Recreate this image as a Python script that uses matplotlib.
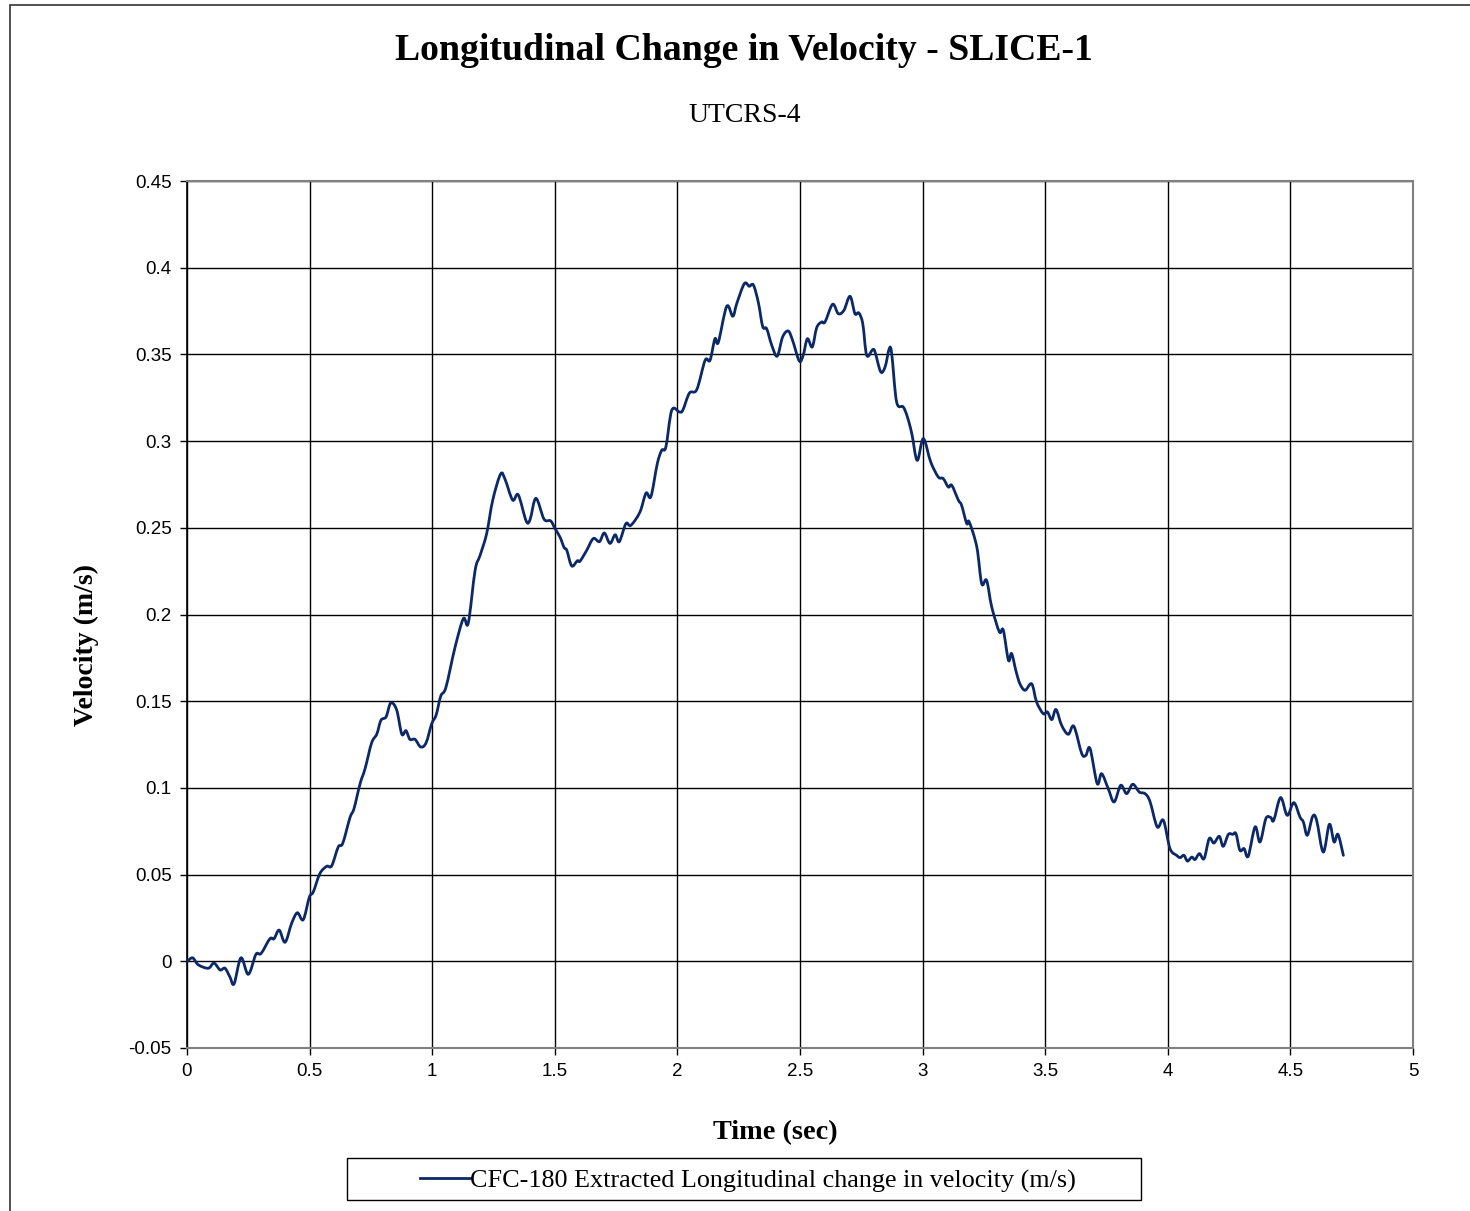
import numpy as np
import matplotlib.pyplot as plt
from matplotlib.patches import Rectangle, PathPatch
from matplotlib.path import Path
from matplotlib.lines import Line2D

# time (sec) and longitudinal change in velocity (m/s), CFC-180 extracted
time_s = [
    0.001, 0.023, 0.046, 0.087, 0.110, 0.135, 0.155, 0.175, 0.192, 0.220,
    0.250, 0.281, 0.302, 0.338, 0.355, 0.376, 0.400, 0.427, 0.450, 0.474,
    0.499, 0.515, 0.542, 0.570, 0.590, 0.617, 0.635, 0.665, 0.681, 0.706,
    0.726, 0.753, 0.774, 0.791, 0.812, 0.831, 0.855, 0.876, 0.893, 0.909,
    0.930, 0.953, 0.975, 0.998, 1.016, 1.035, 1.056, 1.093, 1.127, 1.147,
    1.175, 1.195, 1.222, 1.247, 1.279, 1.297, 1.328, 1.351, 1.383, 1.399,
    1.423, 1.456, 1.483, 1.501, 1.521, 1.538, 1.549, 1.569, 1.592, 1.603,
    1.630, 1.657, 1.682, 1.702, 1.725, 1.746, 1.763, 1.790, 1.810, 1.847,
    1.872, 1.892, 1.918, 1.936, 1.953, 1.977, 2.008, 2.022, 2.049, 2.079,
    2.113, 2.133, 2.153, 2.167, 2.201, 2.226, 2.242, 2.273, 2.293, 2.310,
    2.330, 2.348, 2.364, 2.385, 2.407, 2.429, 2.452, 2.470, 2.497, 2.513,
    2.530, 2.550, 2.568, 2.588, 2.602, 2.633, 2.656, 2.679, 2.704, 2.724,
    2.740, 2.756, 2.772, 2.796, 2.806, 2.829, 2.847, 2.864, 2.874, 2.894,
    2.921, 2.938, 2.956, 2.978, 3.003, 3.033, 3.064, 3.084, 3.105, 3.119,
    3.146, 3.159, 3.180, 3.190, 3.221, 3.241, 3.261, 3.282, 3.313, 3.329,
    3.350, 3.363, 3.381, 3.397, 3.418, 3.445, 3.465, 3.492, 3.509, 3.527,
    3.544, 3.567, 3.594, 3.617, 3.649, 3.666, 3.683, 3.712, 3.730, 3.757,
    3.781, 3.808, 3.832, 3.857, 3.884, 3.907, 3.927, 3.957, 3.982, 4.009,
    4.036, 4.050, 4.066, 4.080, 4.098, 4.111, 4.129, 4.148, 4.169, 4.188,
    4.210, 4.226, 4.247, 4.265, 4.278, 4.294, 4.311, 4.328, 4.356, 4.376,
    4.400, 4.420, 4.432, 4.460, 4.487, 4.514, 4.539, 4.553, 4.569, 4.591,
    4.607, 4.634, 4.659, 4.678, 4.694, 4.716,
]
velocity = [
    0.0000, 0.0020, -0.0020, -0.0040, -0.0010, -0.0050, -0.0040, -0.0090, -0.0130, 0.0020,
    -0.0075, 0.0040, 0.0045, 0.0130, 0.0130, 0.0180, 0.0110, 0.0220, 0.0280, 0.0240,
    0.0370, 0.0400, 0.0506, 0.0548, 0.0550, 0.0660, 0.0680, 0.0830, 0.0880, 0.1025,
    0.1110, 0.1260, 0.1310, 0.1390, 0.1410, 0.1490, 0.1450, 0.1310, 0.1330, 0.1280,
    0.1280, 0.1236, 0.1260, 0.1370, 0.1420, 0.1530, 0.1580, 0.1810, 0.1976, 0.1950,
    0.2255, 0.2340, 0.2466, 0.2660, 0.2810, 0.2780, 0.2660, 0.2690, 0.2540, 0.2547,
    0.2670, 0.2550, 0.2540, 0.2495, 0.2447, 0.2386, 0.2370, 0.2280, 0.2310, 0.2308,
    0.2370, 0.2438, 0.2420, 0.2470, 0.2410, 0.2460, 0.2420, 0.2524, 0.2514, 0.2590,
    0.2700, 0.2680, 0.2870, 0.2947, 0.2966, 0.3178, 0.3168, 0.3178, 0.3277, 0.3297,
    0.3466, 0.3466, 0.3590, 0.3570, 0.3777, 0.3720, 0.3793, 0.3908, 0.3893, 0.3900,
    0.3800, 0.3660, 0.3648, 0.3552, 0.3490, 0.3600, 0.3635, 0.3580, 0.3462, 0.3495,
    0.3590, 0.3543, 0.3654, 0.3687, 0.3687, 0.3789, 0.3735, 0.3754, 0.3835, 0.3735,
    0.3739, 0.3677, 0.3495, 0.3527, 0.3514, 0.3400, 0.3428, 0.3533, 0.3504, 0.3226,
    0.3197, 0.3139, 0.3043, 0.2889, 0.3014, 0.2880, 0.2793, 0.2784, 0.2735, 0.2745,
    0.2659, 0.2630, 0.2524, 0.2534, 0.2390, 0.2178, 0.2197, 0.2043, 0.1900, 0.1910,
    0.1736, 0.1775, 0.1673, 0.1600, 0.1563, 0.1600, 0.1495, 0.1428, 0.1438, 0.1394,
    0.1452, 0.1361, 0.1309, 0.1355, 0.1198, 0.1188, 0.1227, 0.1025, 0.1082, 0.0996,
    0.0919, 0.1015, 0.0967, 0.1021, 0.0976, 0.0967, 0.0923, 0.0775, 0.0813, 0.0650,
    0.0611, 0.0598, 0.0611, 0.0578, 0.0601, 0.0587, 0.0621, 0.0592, 0.0708, 0.0682,
    0.0721, 0.0663, 0.0732, 0.0732, 0.0736, 0.0640, 0.0650, 0.0606, 0.0775, 0.0688,
    0.0823, 0.0829, 0.0813, 0.0944, 0.0842, 0.0915, 0.0832, 0.0803, 0.0727, 0.0836,
    0.0813, 0.0630, 0.0790, 0.0688, 0.0732, 0.0611,
]

x_ticks = [0, 0.5, 1, 1.5, 2, 2.5, 3, 3.5, 4, 4.5, 5]
y_ticks = [-0.05, 0, 0.05, 0.1, 0.15, 0.2, 0.25, 0.3, 0.35, 0.4, 0.45]

line_color = "#0b2867"
serif = "Liberation Serif"
sans = "Liberation Sans"
series_label = "CFC-180 Extracted Longitudinal change in velocity (m/s)"


def smooth_path(xs, ys):
    # smoothed line: Catmull-Rom segments written as cubic Bezier curves
    p = np.column_stack([xs, ys])
    ext = np.vstack([p[0], p, p[-1]])
    verts = [p[0]]
    codes = [Path.MOVETO]
    for i in range(1, len(ext) - 2):
        p0, p1, p2, p3 = ext[i - 1], ext[i], ext[i + 1], ext[i + 2]
        verts += [p1 + (p2 - p0) / 6, p2 - (p3 - p1) / 6, p2]
        codes += [Path.CURVE4] * 3
    return Path(verts, codes)


fig = plt.figure(figsize=(14.7, 12.11), dpi=100)
# outer chart border
fig.patches.append(Rectangle((10 / 1470, -0.01), 1.1, 1 - 5 / 1211 + 0.01,
                             transform=fig.transFigure, fill=False,
                             edgecolor="#333333", linewidth=1.2))

ax = fig.add_axes([187 / 1470, 1 - 1048 / 1211, (1413 - 187) / 1470, (1048 - 181) / 1211])
ax.add_patch(PathPatch(smooth_path(time_s, velocity), fill=False, edgecolor=line_color,
                       linewidth=2.0, joinstyle="round", capstyle="round", zorder=3))

ax.set_xlim(0, 5)
ax.set_ylim(-0.05, 0.45)
ax.set_xticks(x_ticks)
ax.set_yticks(y_ticks)
ax.set_xticklabels([f"{v:g}" for v in x_ticks], fontfamily=sans, fontsize=13.5)
ax.set_yticklabels([f"{v:g}" for v in y_ticks], fontfamily=sans, fontsize=13.5)
ax.tick_params(direction="out", length=5, width=1, color="black", pad=6)
ax.grid(True, color="black", linewidth=1.0)
ax.set_axisbelow(True)
for side in ["top", "right", "bottom"]:
    ax.spines[side].set_color("#808080")
    ax.spines[side].set_linewidth(1.5)
ax.spines["left"].set_color("black")
ax.spines["left"].set_linewidth(1.2)

fig.text(744 / 1470, 1 - 50 / 1211, "Longitudinal Change in Velocity - SLICE-1",
         ha="center", va="center", fontfamily=serif, fontweight="bold", fontsize=27.2)
fig.text(745 / 1470, 1 - 116 / 1211, "UTCRS-4",
         ha="center", va="center", fontfamily=serif, fontsize=20)
fig.text(775 / 1470, 1 - 1133 / 1211, "Time (sec)",
         ha="center", va="center", fontfamily=serif, fontweight="bold", fontsize=20.3)
fig.text(86 / 1470, 1 - 645 / 1211, "Velocity (m/s)", rotation=90,
         ha="center", va="center", fontfamily=serif, fontweight="bold", fontsize=20)

# legend box
fig.patches.append(Rectangle((347 / 1470, 1 - 1200 / 1211), (1141 - 347) / 1470, 42 / 1211,
                             transform=fig.transFigure, fill=False,
                             edgecolor="black", linewidth=1.0))
handle = Line2D([], [], color=line_color, linewidth=2.0)
ax.legend([handle], [series_label], loc="center",
          bbox_to_anchor=(748 / 1470, 1 - 1181 / 1211), bbox_transform=fig.transFigure,
          frameon=False, handlelength=1.93, handletextpad=0.0,
          prop={"family": serif, "size": 18.8})

fig.savefig("out.png", dpi=100)
